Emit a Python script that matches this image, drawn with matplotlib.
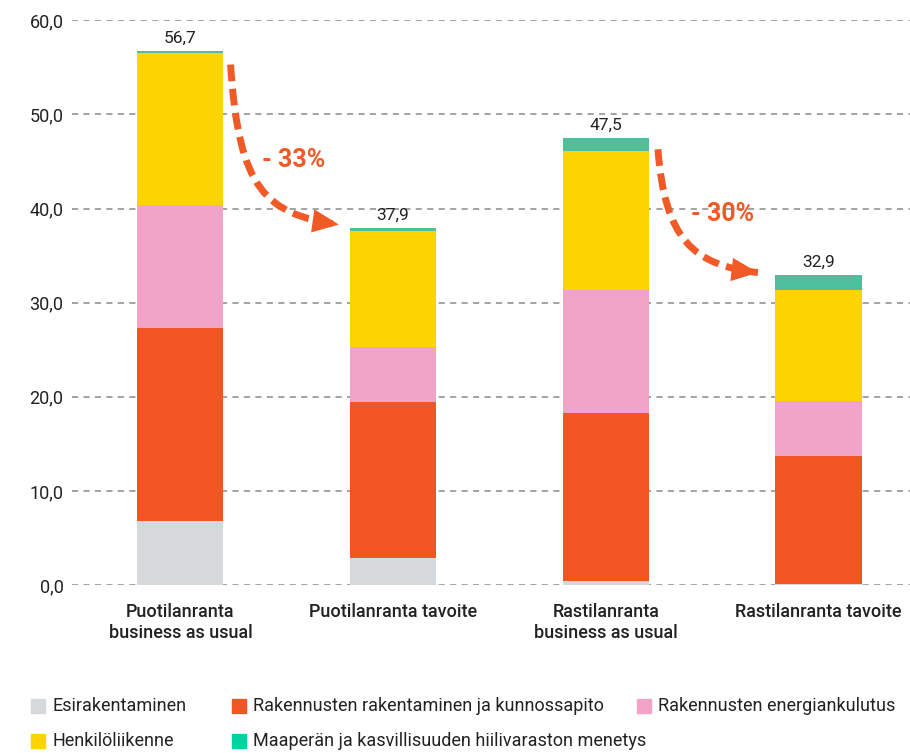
import matplotlib.pyplot as plt
import numpy as np
from matplotlib.patches import Patch, PathPatch, FancyArrowPatch, Rectangle
from matplotlib.path import Path

plt.rcParams['font.family'] = ['Roboto', 'DejaVu Sans']

# Data
categories = ["Puotilanranta\nbusiness as usual", "Puotilanranta tavoite",
              "Rastilanranta\nbusiness as usual", "Rastilanranta tavoite"]
series_names = ["Esirakentaminen",
                "Rakennusten rakentaminen ja kunnossapito",
                "Rakennusten energiankulutus",
                "Henkilöliikenne",
                "Maaperän ja kasvillisuuden hiilivaraston menetys"]
esirakentaminen = [6.8, 2.9, 0.4, 0.1]
rakentaminen = [20.5, 16.6, 17.9, 13.6]
energia = [13.1, 5.8, 13.1, 5.9]
liikenne = [16.1, 12.3, 14.7, 11.7]
maapera = [0.2, 0.3, 1.4, 1.6]
totals = ["56,7", "37,9", "47,5", "32,9"]
changes = ["- 33%", "- 30%"]
yticks = [0, 10, 20, 30, 40, 50, 60]
ytick_labels = ["0,0", "10,0", "20,0", "30,0", "40,0", "50,0", "60,0"]

bar_colors = ["#d6d9db", "#f15524", "#f2a4c8", "#fcd400", "#4dbf9c"]
legend_colors = ["#d6d9db", "#f15524", "#f2a4c8", "#fcd400", "#00d2a0"]
accent = "#f05a26"
text_col = "#222222"

fig = plt.figure(figsize=(9.1, 7.53), dpi=100)
ax = fig.add_axes([0.079, 0.223, 0.921, 0.75])

x = np.arange(len(categories))
width = 0.405
bottom = np.zeros(len(categories))
for vals, col in zip([esirakentaminen, rakentaminen, energia, liikenne, maapera], bar_colors):
    ax.bar(x, vals, width, bottom=bottom, color=col, zorder=3)
    bottom += np.array(vals)

for xi, total, lab in zip(x, bottom, totals):
    ax.text(xi, total + 0.6, lab, ha='center', va='bottom', fontsize=12.5, color=text_col)

ax.set_xlim(-0.51, 3.43)
ax.set_ylim(0, 60)
ax.set_yticks(yticks)
ax.set_yticklabels(ytick_labels, fontsize=13, color=text_col)
ax.set_xticks(x)
ax.set_xticklabels(categories, fontsize=13, fontweight='medium', color=text_col)
ax.tick_params(axis='both', length=0, pad=6)
ax.tick_params(axis='x', pad=13)
ax.grid(axis='y', linestyle=(0, (4, 3.5)), color='#8a8a8a', linewidth=1.1, zorder=0)
for s in ax.spines.values():
    s.set_visible(False)


# curved dashed arrows (cubic bezier in data coords)
def curved_arrow(p0, c1, c2, p1):
    path = Path([p0, c1, c2, p1], [Path.MOVETO, Path.CURVE4, Path.CURVE4, Path.CURVE4])
    ax.add_patch(PathPatch(path, fill=False, edgecolor=accent, lw=5,
                           linestyle=(0, (2.4, 1.1)), capstyle='butt', zorder=4))
    d = np.array(p1) - np.array(c2)
    tail = np.array(p1) - 0.02 * d
    ax.add_patch(FancyArrowPatch(tail, p1, arrowstyle='-|>,head_length=0.95,head_width=0.42',
                                 mutation_scale=20, color=accent, lw=0, zorder=5))


curved_arrow((0.236, 55.3), (0.274, 42.0), (0.40, 39.4), (0.745, 38.3))
curved_arrow((2.245, 46.3), (2.278, 36.7), (2.41, 34.0), (2.715, 33.2))

ax.text(0.385, 45.2, changes[0], fontsize=18, fontweight='bold', color=accent, ha='left', va='center')
ax.text(2.40, 39.4, changes[1], fontsize=18, fontweight='bold', color=accent, ha='left', va='center')

# legend placed manually, row-wise
W, H = 910, 753
leg_x = [31, 232, 637, 31, 232]
leg_y = [706, 706, 706, 741, 741]
for name, col, lx, ly in zip(series_names, legend_colors, leg_x, leg_y):
    fig.patches.append(Rectangle((lx / W, (H - ly - 7) / H), 14 / W, 14 / H,
                                 transform=fig.transFigure, color=col, figure=fig))
    fig.text((lx + 21) / W, (H - ly) / H, name, fontsize=13, color=text_col,
             ha='left', va='center')

fig.savefig("out.png", dpi=100)
